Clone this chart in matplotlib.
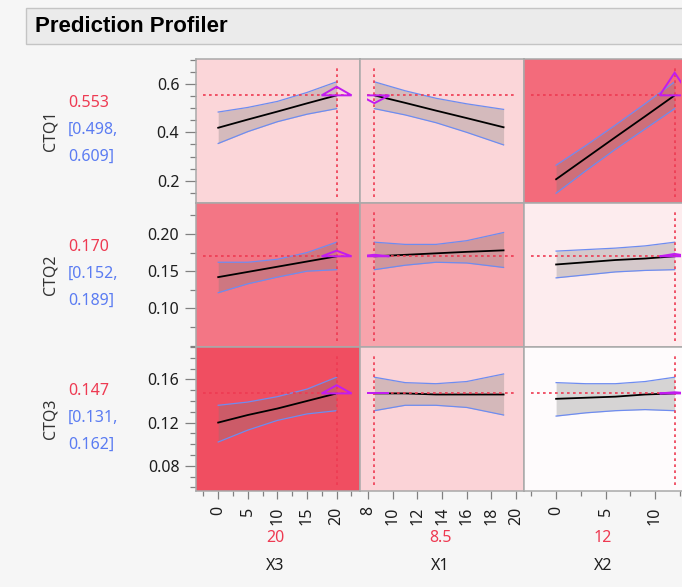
import matplotlib
matplotlib.use("Agg")
import matplotlib.pyplot as plt
from matplotlib.patches import Polygon, Rectangle
from matplotlib.transforms import Bbox
from matplotlib.ticker import FixedLocator, MultipleLocator, NullLocator

plt.rcParams['font.family'] = ['Noto Sans', 'DejaVu Sans']

# ---- data ---------------------------------------------------------------
responses = ["CTQ1", "CTQ2", "CTQ3"]
factors = ["X3", "X1", "X2"]
factor_current = [20, 8.5, 12]
factor_current_labels = ["20", "8.5", "12"]
pred_value = [0.553, 0.170, 0.147]
pred_lower = [0.498, 0.152, 0.131]
pred_upper = [0.609, 0.189, 0.162]

x3_grid = [0, 5, 10, 15, 20]
x1_grid = [8.5, 11, 13.5, 16, 19]
x2_grid = [0, 3, 6, 9, 12]

# CTQ1 profile traces (mean, lower, upper)
ctq1_x3_mean = [0.419, 0.453, 0.486, 0.520, 0.553]
ctq1_x3_lo = [0.354, 0.403, 0.444, 0.475, 0.498]
ctq1_x3_hi = [0.484, 0.503, 0.528, 0.565, 0.609]
ctq1_x1_mean = [0.553, 0.522, 0.490, 0.459, 0.421]
ctq1_x1_lo = [0.498, 0.472, 0.440, 0.400, 0.348]
ctq1_x1_hi = [0.609, 0.572, 0.541, 0.518, 0.495]
ctq1_x2_mean = [0.206, 0.293, 0.380, 0.466, 0.553]
ctq1_x2_lo = [0.148, 0.241, 0.330, 0.414, 0.498]
ctq1_x2_hi = [0.264, 0.345, 0.430, 0.518, 0.609]

# CTQ2 profile traces
ctq2_x3_mean = [0.142, 0.149, 0.156, 0.163, 0.170]
ctq2_x3_lo = [0.121, 0.133, 0.142, 0.150, 0.152]
ctq2_x3_hi = [0.162, 0.162, 0.166, 0.175, 0.189]
ctq2_x1_mean = [0.170, 0.172, 0.174, 0.176, 0.178]
ctq2_x1_lo = [0.152, 0.158, 0.162, 0.161, 0.155]
ctq2_x1_hi = [0.189, 0.186, 0.186, 0.191, 0.202]
ctq2_x2_mean = [0.159, 0.162, 0.165, 0.167, 0.170]
ctq2_x2_lo = [0.141, 0.145, 0.149, 0.151, 0.152]
ctq2_x2_hi = [0.177, 0.179, 0.181, 0.184, 0.189]

# CTQ3 profile traces
ctq3_x3_mean = [0.120, 0.127, 0.133, 0.140, 0.147]
ctq3_x3_lo = [0.102, 0.113, 0.122, 0.128, 0.131]
ctq3_x3_hi = [0.136, 0.139, 0.144, 0.151, 0.162]
ctq3_x1_mean = [0.147, 0.147, 0.146, 0.146, 0.146]
ctq3_x1_lo = [0.131, 0.136, 0.136, 0.134, 0.127]
ctq3_x1_hi = [0.162, 0.157, 0.156, 0.158, 0.165]
ctq3_x2_mean = [0.142, 0.143, 0.144, 0.146, 0.147]
ctq3_x2_lo = [0.126, 0.129, 0.131, 0.132, 0.131]
ctq3_x2_hi = [0.157, 0.156, 0.156, 0.158, 0.162]

y_major = [[0.2, 0.4, 0.6], [0.10, 0.15, 0.20], [0.08, 0.12, 0.16]]
y_labels = [["0.2", "0.4", "0.6"], ["0.10", "0.15", "0.20"], ["0.08", "0.12", "0.16"]]
x_major = [[0, 5, 10, 15, 20], [8, 10, 12, 14, 16, 18, 20], [0, 5, 10]]
x_labels = [["0", "5", "10", "15", "20"],
            ["8", "10", "12", "14", "16", "18", "20"],
            ["0", "5", "10"]]

# ---- styling / layout ---------------------------------------------------
W, H = 682, 587
BG = "#f6f6f6"
RED = "#ee3a52"
BLUE = "#5b7cf2"
MAGENTA = "#c21cf0"
BAND_EDGE = "#6e8cf0"
SPINE = "#a9a9a9"
TICK = "#808080"
TEXT = "#1e1e1e"

panel_colors = [["#fbd6d9", "#fbd6d9", "#f36b7b"],
                ["#f37685", "#f7a4ac", "#fdecee"],
                ["#f04e61", "#fbd3d7", "#fefbfc"]]

col_left = [196, 360, 524]
col_w = 164
row_top = [59, 203, 347]
row_h = 144
xlims = [(-3.75, 23.95), (7.33, 20.66), (-3.25, 13.35)]
ylims = [(0.1077, 0.7034), (0.048, 0.2417), (0.0566, 0.190)]
y_minor = [0.05, 0.025, 0.01]
x_minor = [2.5, None, 2.5]

grids = [x3_grid, x1_grid, x2_grid]
means = [[ctq1_x3_mean, ctq1_x1_mean, ctq1_x2_mean],
         [ctq2_x3_mean, ctq2_x1_mean, ctq2_x2_mean],
         [ctq3_x3_mean, ctq3_x1_mean, ctq3_x2_mean]]
lows = [[ctq1_x3_lo, ctq1_x1_lo, ctq1_x2_lo],
        [ctq2_x3_lo, ctq2_x1_lo, ctq2_x2_lo],
        [ctq3_x3_lo, ctq3_x1_lo, ctq3_x2_lo]]
highs = [[ctq1_x3_hi, ctq1_x1_hi, ctq1_x2_hi],
         [ctq2_x3_hi, ctq2_x1_hi, ctq2_x2_hi],
         [ctq3_x3_hi, ctq3_x1_hi, ctq3_x2_hi]]

FS = 11.5

fig = plt.figure(figsize=(W / 100, H / 100), dpi=100)
fig.patch.set_facecolor(BG)

# header bar
fig.patches.append(Rectangle((26 / W, 1 - 44 / H), (W - 26) / W + 0.01, 36 / H,
                             transform=fig.transFigure, facecolor="#ebebeb",
                             edgecolor="#c4c4c4", lw=1.0))
fig.text(35 / W, 1 - 26 / H, "Prediction Profiler", fontsize=16,
         fontweight="bold", family=["Liberation Sans", "DejaVu Sans"],
         color="#000000", va="center", ha="left")


def to_fig(px, py):
    return px / W, 1 - py / H


for i in range(3):
    for j in range(3):
        l, b = col_left[j] / W, 1 - (row_top[i] + row_h) / H
        ax = fig.add_axes([l, b, col_w / W, row_h / H])
        ax.set_facecolor(panel_colors[i][j])
        ax.set_xlim(*xlims[j])
        ax.set_ylim(*ylims[i])
        for s in ax.spines.values():
            s.set_color(SPINE)
            s.set_linewidth(1.1)

        xs = grids[j]
        m, lo, hi = means[i][j], lows[i][j], highs[i][j]
        ax.fill_between(xs, lo, hi, color="#7a7a7a", alpha=0.30, lw=0, zorder=2)
        ax.plot(xs, lo, color=BAND_EDGE, lw=0.9, zorder=3)
        ax.plot(xs, hi, color=BAND_EDGE, lw=0.9, zorder=3)
        ax.plot(xs, m, color="black", lw=1.3, zorder=4)

        # current settings
        ax.axhline(pred_value[i], xmin=0.043, xmax=0.952, color=RED, lw=1.2,
                   ls=(0, (1.6, 2.0)), zorder=5)
        ax.axvline(factor_current[j], ymin=0.042, ymax=0.94, color=RED, lw=1.2,
                   ls=(0, (1.6, 2.0)), zorder=5)

        # sensitivity indicator at the current point
        k = 0 if factor_current[j] == xs[0] else len(xs) - 1
        k0, k1 = (0, 1) if k == 0 else (k - 1, k)
        slope = (m[k1] - m[k0]) / (xs[k1] - xs[k0])
        x0, y0 = factor_current[j], pred_value[i]
        p0 = ax.transData.transform((x0, y0))
        sx = ax.transData.transform((x0 + 1, y0))[0] - p0[0]
        sy = ax.transData.transform((x0, y0 + 1))[1] - p0[1]
        hpx = slope * sy / sx * 32
        verts_px = [(p0[0] - 15, p0[1]), (p0[0] + 15, p0[1]), (p0[0], p0[1] + hpx)]
        verts = ax.transData.inverted().transform(verts_px)
        tri = Polygon(verts, closed=True, fill=False, edgecolor=MAGENTA,
                      lw=1.4, zorder=6, joinstyle="miter")
        ax.add_patch(tri)
        bb = ax.bbox
        tri.set_clip_box(Bbox.from_extents(bb.x0 + 7, bb.y0, bb.x1 - 7, bb.y1))

        # ticks
        if j == 0:
            ax.yaxis.set_major_locator(FixedLocator(y_major[i]))
            ax.set_yticklabels(y_labels[i], fontsize=FS, color=TEXT)
            ax.yaxis.set_minor_locator(MultipleLocator(y_minor[i]))
            ax.tick_params(axis="y", which="major", length=8, width=0.9,
                           color=TICK, pad=4)
            ax.tick_params(axis="y", which="minor", length=4, width=0.9,
                           color=TICK)
        else:
            ax.set_yticks([])
            ax.yaxis.set_minor_locator(NullLocator())
        if i == 2:
            ax.xaxis.set_major_locator(FixedLocator(x_major[j]))
            ax.set_xticklabels(x_labels[j], fontsize=FS, color=TEXT, rotation=90)
            if x_minor[j]:
                ax.xaxis.set_minor_locator(MultipleLocator(x_minor[j]))
            ax.tick_params(axis="x", which="major", length=6, width=0.9,
                           color=TICK, pad=5)
            ax.tick_params(axis="x", which="minor", length=3.5, width=0.9,
                           color=TICK)
        else:
            ax.set_xticks([])
            ax.xaxis.set_minor_locator(NullLocator())

# response labels with current prediction and interval
for i in range(3):
    cy = row_top[i] + row_h / 2
    fig.text(*to_fig(51, cy), responses[i], rotation=90, fontsize=FS,
             color="#333333", ha="center", va="center")
    fig.text(*to_fig(68, cy - 28), f"{pred_value[i]:.3f}", fontsize=FS,
             color=RED, ha="left", va="center")
    fig.text(*to_fig(68, cy - 1), f"[{pred_lower[i]:.3f},", fontsize=FS,
             color=BLUE, ha="left", va="center")
    fig.text(*to_fig(68, cy + 26), f"{pred_upper[i]:.3f}]", fontsize=FS,
             color=BLUE, ha="left", va="center")

# factor labels with current settings
label_x = [275, 440, 603]
for j in range(3):
    fig.text(*to_fig(label_x[j], 538), factor_current_labels[j], fontsize=FS,
             color=RED, ha="center", va="center")
    fig.text(*to_fig(label_x[j], 566), factors[j], fontsize=FS,
             color=TEXT, ha="center", va="center")

fig.savefig("out.png", dpi=100, facecolor=BG)
